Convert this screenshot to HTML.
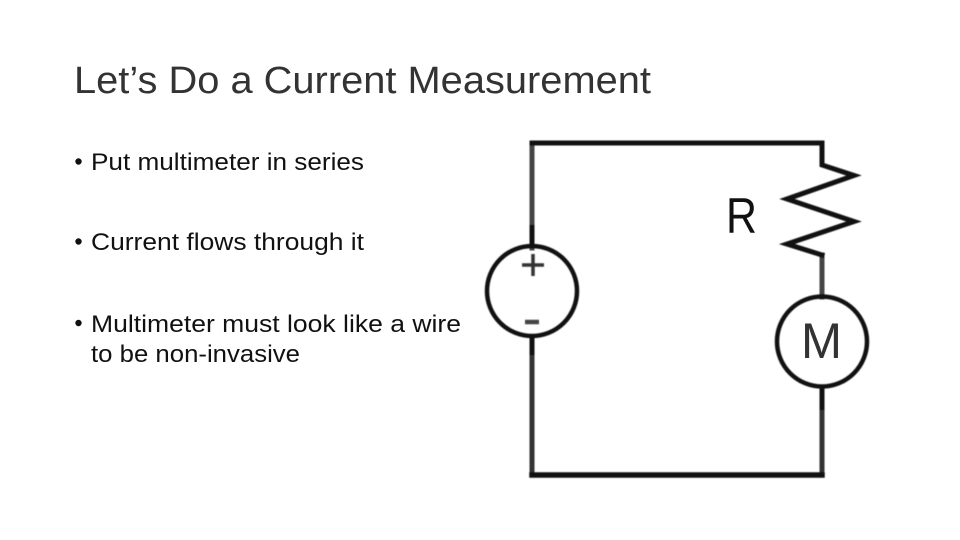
<!DOCTYPE html>
<html>
<head>
<meta charset="utf-8">
<style>
html,body{margin:0;padding:0;background:#fff;width:960px;height:540px;overflow:hidden}
svg{display:block}
text{font-family:"Liberation Sans",sans-serif}
</style>
</head>
<body>
<svg width="960" height="540" viewBox="0 0 960 540" xmlns="http://www.w3.org/2000/svg">
<rect width="960" height="540" fill="#fff"/>
<text x="74" y="93" font-size="38" fill="#333" textLength="577" lengthAdjust="spacingAndGlyphs">Let’s Do a Current Measurement</text>
<g font-size="24" fill="#111">
<circle cx="78.5" cy="161.5" r="3.2" fill="#111"/>
<text x="91" y="170" textLength="273" lengthAdjust="spacingAndGlyphs">Put multimeter in series</text>
<circle cx="78.5" cy="241.5" r="3.2" fill="#111"/>
<text x="91" y="250" textLength="273" lengthAdjust="spacingAndGlyphs">Current flows through it</text>
<circle cx="78.5" cy="323" r="3.2" fill="#111"/>
<text x="91" y="332" textLength="370" lengthAdjust="spacingAndGlyphs">Multimeter must look like a wire</text>
<text x="91" y="362" textLength="209" lengthAdjust="spacingAndGlyphs">to be non-invasive</text>
</g>
<g fill="none" stroke="#111" stroke-linejoin="miter" style="filter:blur(0.5px)">
<path d="M532 338V475H822V387" stroke-width="5" stroke="#333" stroke-linecap="square"/>
<path d="M532 248V143M822 255V297" stroke-width="5" stroke="#444" stroke-linecap="square"/>
<path d="M532 143H822V165L854 175.500L787 199L854 221.500L787 244L822 255" stroke-width="5" stroke-linecap="square"/>
<path d="M532 225V248M532 336V355M822 387V410" stroke-width="5" stroke="#111"/>
<path d="M532 475H822" stroke-width="5.500" stroke="#111" stroke-linecap="square"/>
<circle cx="532" cy="291" r="45" stroke-width="4.500"/>
<circle cx="822" cy="341.500" r="45" stroke-width="4.500"/>
<path d="M522 265H544M533 254V276" stroke="#333" stroke-width="3.500"/>
<path d="M525 322H539" stroke="#444" stroke-width="4.500"/>
</g>
<text x="726" y="233" font-size="50" fill="#111" textLength="31" lengthAdjust="spacingAndGlyphs">R</text>
<text x="801" y="358" font-size="50" fill="#333" textLength="41" lengthAdjust="spacingAndGlyphs">M</text>
</svg>
</body>
</html>
